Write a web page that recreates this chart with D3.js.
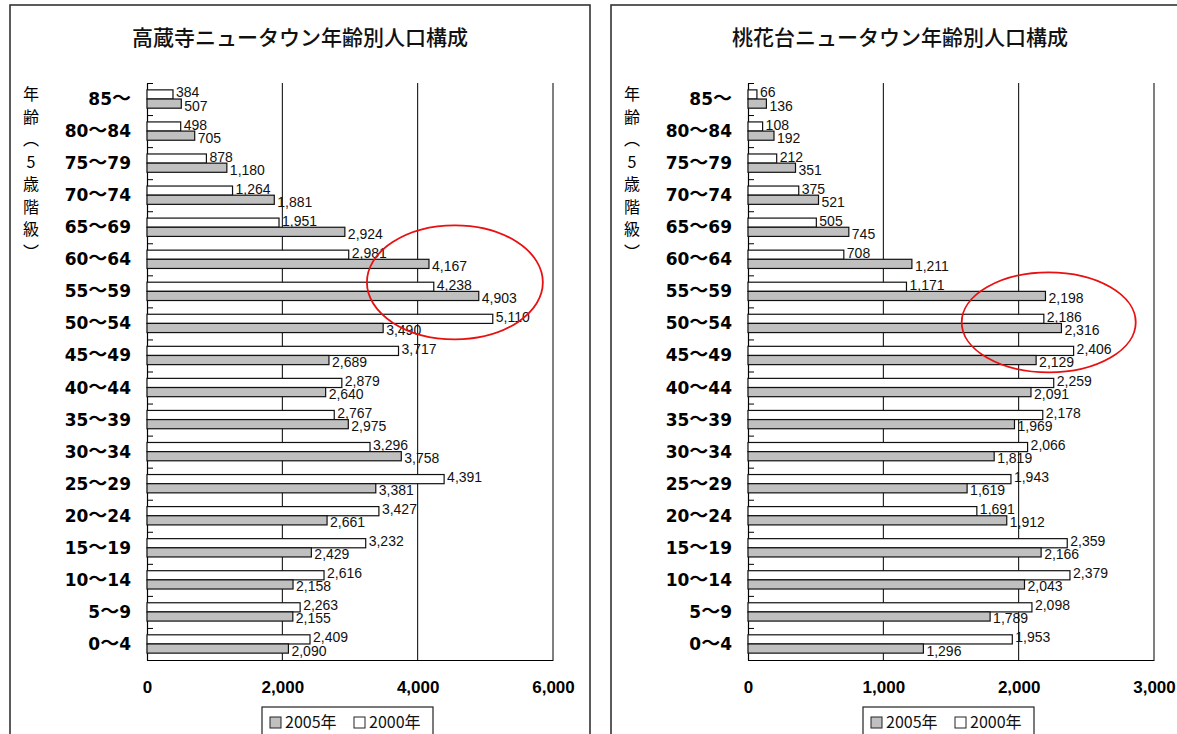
<!DOCTYPE html>
<html>
<head>
<meta charset="utf-8">
<script src="https://cdn.jsdelivr.net/npm/d3@7"></script>
<style>
  body { margin: 0; background: #fff; }
  svg { display: block; }
</style>
</head>
<body>
<svg id="chart"></svg>
<script>
const ageGroups = ['85～', '80～84', '75～79', '70～74', '65～69', '60～64', '55～59', '50～54',
  '45～49', '40～44', '35～39', '30～34', '25～29', '20～24', '15～19', '10～14', '5～9', '0～4'];

// 高蔵寺
const kozojiTitle = '高蔵寺ニュータウン年齢別人口構成';
const kozoji2000 = [384, 498, 878, 1264, 1951, 2981, 4238, 5110, 3717, 2879, 2767, 3296, 4391, 3427, 3232, 2616, 2263, 2409];
const kozoji2005 = [507, 705, 1180, 1881, 2924, 4167, 4903, 3490, 2689, 2640, 2975, 3758, 3381, 2661, 2429, 2158, 2155, 2090];
const kozojiTicks = [0, 2000, 4000, 6000];

// 桃花台
const tokadaiTitle = '桃花台ニュータウン年齢別人口構成';
const tokadai2000 = [66, 108, 212, 375, 505, 708, 1171, 2186, 2406, 2259, 2178, 2066, 1943, 1691, 2359, 2379, 2098, 1953];
const tokadai2005 = [136, 192, 351, 521, 745, 1211, 2198, 2316, 2129, 2091, 1969, 1819, 1619, 1912, 2166, 2043, 1789, 1296];
const tokadaiTicks = [0, 1000, 2000, 3000];

const yAxisTitle = ['年', '齢', '︵', '5', '歳', '階', '級', '︶'];
const seriesKeys = ['2000', '2005'];

const W = 1177, H = 734;
const $svg = d3.select('#chart').attr('width', W).attr('height', H);

const fmt = d3.format(',');
const jp = '"Noto Sans CJK JP", sans-serif';
const latin = '"Liberation Sans", Arial, sans-serif';

const drawPanel = (opt) => {
  const g = $svg.append('g').attr('transform', 'translate(' + opt.ox + ',0)');
  const plot = { l: 137, r: 543, t: 83, b: 660 };

  g.append('rect')
    .attr('x', 0).attr('y', 5)
    .attr('width', opt.frameW).attr('height', 760)
    .attr('fill', 'none').attr('stroke', '#333').attr('stroke-width', 1.6);

  g.append('text')
    .text(opt.title)
    .attr('x', opt.titleX).attr('y', 45)
    .attr('text-anchor', 'middle')
    .attr('font-family', jp).attr('font-size', 21).attr('font-weight', 500)
    .attr('fill', '#111');

  const xScale = d3.scaleLinear().domain([0, opt.max]).range([plot.l, plot.r]);
  const yScale = d3.scaleBand().domain(ageGroups).range([plot.t, plot.b]);
  const subScale = d3.scaleBand().domain(seriesKeys).range([0, yScale.bandwidth()]).paddingOuter(0.75);
  const yLin = d3.scaleLinear().domain([0, ageGroups.length]).range([plot.t, plot.b]);

  // grid lines
  g.append('g').selectAll('line')
    .data(opt.ticks.slice(1))
    .enter().append('line')
    .attr('x1', (d) => xScale(d)).attr('x2', (d) => xScale(d))
    .attr('y1', plot.t).attr('y2', plot.b)
    .attr('stroke', '#000').attr('stroke-width', 1);

  // x axis
  const xAxis = g.append('g')
    .attr('transform', 'translate(0,' + plot.b + ')')
    .call(d3.axisBottom(xScale).tickValues(opt.ticks).tickFormat(fmt).tickSize(0).tickPadding(21));
  xAxis.select('.domain').attr('stroke', '#000').attr('stroke-width', 1.2);
  xAxis.selectAll('text')
    .attr('font-family', latin).attr('font-size', 17).attr('font-weight', 'bold').attr('fill', '#000');

  // y axis (ticks between categories, pointing inward)
  const yAxis = g.append('g')
    .attr('transform', 'translate(' + plot.l + ',0)')
    .call(d3.axisLeft(yLin).ticks(ageGroups.length).tickSizeInner(-6).tickSizeOuter(0).tickFormat(''));
  yAxis.select('.domain').attr('stroke', '#000').attr('stroke-width', 1.2);
  yAxis.selectAll('.tick line').attr('stroke', '#000');

  // category labels, the wave dash set in the CJK face so it stays wide
  const catLabels = g.append('g').selectAll('text')
    .data(ageGroups)
    .enter().append('text')
    .attr('x', plot.l - 16)
    .attr('y', (d) => yScale(d) + yScale.bandwidth() / 2 + 6)
    .attr('text-anchor', 'end')
    .attr('font-family', '"DejaVu Sans", sans-serif').attr('font-size', 17).attr('font-weight', 'bold')
    .attr('fill', '#000');
  catLabels.each(function(d) {
    const parts = d.split('～');
    const t = d3.select(this);
    t.append('tspan').text(parts[0]);
    t.append('tspan').text('～').attr('font-family', jp).attr('font-size', 19);
    if (parts[1]) t.append('tspan').text(parts[1]);
  });

  // vertical axis title
  g.append('g').selectAll('text')
    .data(yAxisTitle)
    .enter().append('text')
    .text((d) => d)
    .attr('x', 21)
    .attr('y', (d, i) => 100 + i * 22.5)
    .attr('text-anchor', 'middle')
    .attr('font-family', jp).attr('font-size', 16)
    .attr('fill', '#000');

  const rows = ageGroups.map((a, i) => ({ age: a, '2000': opt.v2000[i], '2005': opt.v2005[i] }));
  const fills = { '2000': '#fff', '2005': '#c0c0c0' };

  seriesKeys.forEach((k) => {
    g.append('g').selectAll('rect')
      .data(rows)
      .enter().append('rect')
      .attr('x', xScale(0))
      .attr('y', (d) => yScale(d.age) + subScale(k))
      .attr('width', (d) => xScale(d[k]) - xScale(0))
      .attr('height', subScale.bandwidth())
      .attr('fill', fills[k])
      .attr('stroke', '#111').attr('stroke-width', 1.2);

    g.append('g').selectAll('text')
      .data(rows)
      .enter().append('text')
      .text((d) => fmt(d[k]))
      .attr('x', (d) => xScale(d[k]) + 3)
      .attr('y', (d) => yScale(d.age) + subScale(k) + subScale.bandwidth() / 2 + (k == '2000' ? 3 : 7))
      .attr('font-family', latin).attr('font-size', 14)
      .attr('fill', '#111');
  });

  // red ellipse highlight
  g.append('ellipse')
    .attr('cx', xScale(opt.ell.x))
    .attr('cy', yScale(opt.ell.age) + opt.ell.dy)
    .attr('rx', xScale(opt.ell.rx) - xScale(0))
    .attr('ry', opt.ell.ry)
    .attr('fill', 'none').attr('stroke', '#e81010').attr('stroke-width', 1.8);

  // legend
  const lg = g.append('g').attr('transform', 'translate(' + opt.legendX + ',707)');
  lg.append('rect').attr('width', 171).attr('height', 40)
    .attr('fill', '#fff').attr('stroke', '#222').attr('stroke-width', 1.2);
  const items = [['2005', '#c0c0c0', 8], ['2000', '#fff', 92]];
  items.forEach((it) => {
    lg.append('rect').attr('x', it[2]).attr('y', 10).attr('width', 11).attr('height', 11)
      .attr('fill', it[1]).attr('stroke', '#222');
    lg.append('text').text(it[0] + '年')
      .attr('x', it[2] + 15).attr('y', 21)
      .attr('font-family', jp).attr('font-size', 16).attr('fill', '#111');
  });
};

drawPanel({
  ox: 10, frameW: 580, title: kozojiTitle, titleX: 290,
  v2000: kozoji2000, v2005: kozoji2005, max: 6000, ticks: kozojiTicks,
  ell: { x: 4550, age: '55～59', dy: 7, rx: 1300, ry: 57 },
  legendX: 252
});
drawPanel({
  ox: 611, frameW: 600, title: tokadaiTitle, titleX: 289,
  v2000: tokadai2000, v2005: tokadai2005, max: 3000, ticks: tokadaiTicks,
  ell: { x: 2222, age: '50～54', dy: 15, rx: 643, ry: 50 },
  legendX: 252
});
</script>
</body>
</html>
